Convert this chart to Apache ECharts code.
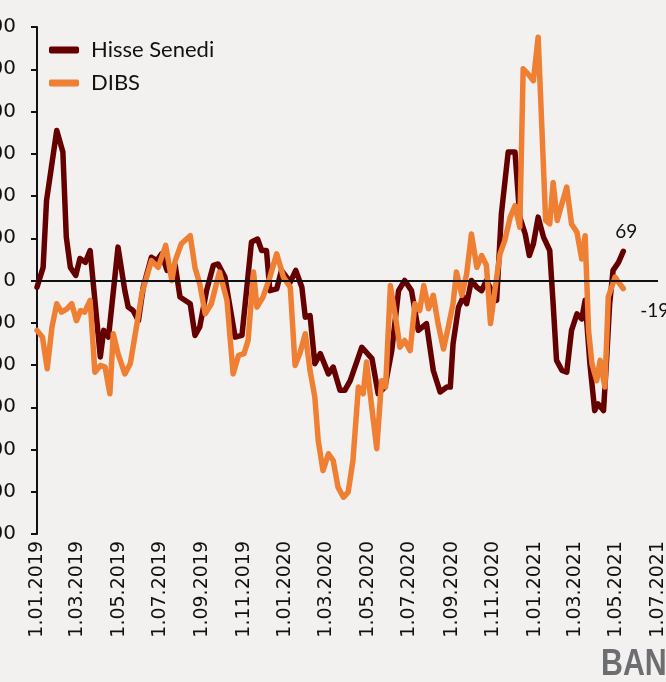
<!DOCTYPE html>
<html><head><meta charset="utf-8">
<script src="https://cdn.jsdelivr.net/npm/echarts@6/dist/echarts.min.js"></script>
<style>html,body{margin:0;padding:0;background:#f2f1ef;} #c{width:666px;height:682px;}</style>
</head><body><div id="c"></div>
<script>
const seriesNames = ['Hisse Senedi', 'DIBS'];

const hisseDates = ['2019-01-01','2019-01-10','2019-01-15','2019-01-30','2019-02-08','2019-02-13','2019-02-19','2019-02-27','2019-03-05','2019-03-13','2019-03-20','2019-04-04','2019-04-09','2019-04-16','2019-04-30','2019-05-10','2019-05-15','2019-05-22','2019-05-30','2019-06-06','2019-06-18','2019-06-26','2019-07-03','2019-07-11','2019-07-23','2019-07-30','2019-08-14','2019-08-21','2019-08-28','2019-09-07','2019-09-17','2019-09-24','2019-10-04','2019-10-19','2019-10-29','2019-11-12','2019-11-21','2019-11-27','2019-12-04','2019-12-09','2019-12-19','2019-12-26','2020-01-08','2020-01-16','2020-01-25','2020-01-30','2020-02-06','2020-02-13','2020-02-21','2020-03-04','2020-03-11','2020-03-21','2020-03-28','2020-04-05','2020-04-22','2020-05-07','2020-05-16','2020-05-26','2020-06-05','2020-06-15','2020-06-24','2020-07-04','2020-07-14','2020-07-26','2020-08-05','2020-08-15','2020-08-25','2020-08-30','2020-09-03','2020-09-11','2020-09-18','2020-09-23','2020-09-30','2020-10-08','2020-10-15','2020-10-22','2020-11-06','2020-11-13','2020-11-23','2020-12-03','2020-12-10','2020-12-18','2020-12-24','2020-12-30','2021-01-06','2021-01-14','2021-01-23','2021-01-28','2021-02-02','2021-02-10','2021-02-17','2021-02-24','2021-03-04','2021-03-11','2021-03-16','2021-03-23','2021-03-30','2021-04-04','2021-04-12','2021-04-17','2021-04-21','2021-04-26','2021-05-04','2021-05-11'];
const hisseValues = [-16,31,189,355,304,103,31,12,52,43,71,-181,-118,-134,79,-24,-63,-71,-95,-16,55,47,63,24,36,-39,-55,-130,-110,-24,36,39,8,-134,-130,91,98,71,71,-24,-20,24,-4,24,-16,-87,-83,-197,-173,-221,-205,-260,-260,-237,-158,-185,-268,-252,-166,-24,0,-24,-118,-102,-213,-264,-252,-252,-150,-63,-39,-55,0,-16,-24,0,-47,158,304,304,150,110,59,87,150,102,71,-55,-189,-213,-217,-118,-79,-91,-47,-197,-308,-292,-308,-173,-55,24,43,69];

const dibsDates = ['2019-01-01','2019-01-09','2019-01-16','2019-01-23','2019-01-30','2019-02-06','2019-02-14','2019-02-21','2019-02-28','2019-03-06','2019-03-12','2019-03-20','2019-03-27','2019-04-04','2019-04-11','2019-04-18','2019-04-23','2019-04-30','2019-05-10','2019-05-18','2019-05-27','2019-06-04','2019-06-11','2019-06-18','2019-06-28','2019-07-09','2019-07-18','2019-07-23','2019-08-01','2019-08-14','2019-08-21','2019-08-28','2019-09-05','2019-09-14','2019-09-26','2019-10-07','2019-10-16','2019-10-24','2019-11-01','2019-11-07','2019-11-15','2019-11-20','2019-11-29','2019-12-09','2019-12-19','2019-12-29','2020-01-08','2020-01-15','2020-01-22','2020-01-30','2020-02-06','2020-02-13','2020-02-18','2020-02-25','2020-03-04','2020-03-11','2020-03-18','2020-03-26','2020-04-02','2020-04-09','2020-04-17','2020-04-24','2020-04-29','2020-05-06','2020-05-14','2020-05-21','2020-05-27','2020-06-03','2020-06-12','2020-06-17','2020-06-24','2020-07-02','2020-07-09','2020-07-16','2020-07-22','2020-07-29','2020-08-05','2020-08-12','2020-08-20','2020-08-27','2020-09-03','2020-09-08','2020-09-16','2020-09-23','2020-09-30','2020-10-08','2020-10-15','2020-10-22','2020-10-28','2020-11-04','2020-11-11','2020-11-18','2020-11-26','2020-12-03','2020-12-10','2020-12-15','2020-12-22','2020-12-30','2021-01-06','2021-01-17','2021-01-23','2021-01-28','2021-02-03','2021-02-09','2021-02-17','2021-02-24','2021-03-04','2021-03-11','2021-03-16','2021-03-21','2021-03-26','2021-04-02','2021-04-07','2021-04-14','2021-04-19','2021-04-29','2021-05-04','2021-05-11'];
const dibsValues = [-118,-134,-209,-110,-55,-75,-67,-55,-95,-71,-75,-47,-217,-201,-205,-268,-126,-173,-221,-197,-110,-31,8,47,31,83,0,47,87,106,31,-8,-79,-55,20,-47,-221,-177,-173,-142,20,-63,-39,8,63,8,-16,-201,-173,-126,-213,-276,-379,-450,-410,-426,-489,-513,-501,-426,-252,-268,-193,-292,-398,-237,-252,-12,-102,-158,-142,-166,-55,-71,-12,-67,-35,-102,-162,-110,-55,20,-35,16,110,31,59,36,-102,-16,63,95,150,177,126,501,489,473,576,142,134,232,142,177,221,134,114,51,106,-118,-197,-237,-189,-252,-39,8,-4,-19];

const xTickDates = ['2019-01-01','2019-03-01','2019-05-01','2019-07-01','2019-09-01','2019-11-01','2020-01-01','2020-03-01','2020-05-01','2020-07-01','2020-09-01','2020-11-01','2021-01-01','2021-03-01','2021-05-01','2021-07-01'];
const yMin = -600, yMax = 600, yStep = 100;

const toTs = s => { const p = s.split('-').map(Number); return Date.UTC(p[0], p[1] - 1, p[2]); };
const pad = n => (n < 10 ? '0' : '') + n;
const fmtDate = v => { const d = new Date(v); return d.getUTCDate() + '.' + pad(d.getUTCMonth() + 1) + '.' + d.getUTCFullYear(); };

const chart = echarts.init(document.getElementById('c'), null, {renderer: 'canvas'});
const xTicks = xTickDates.map(toTs);

chart.setOption({
  backgroundColor: '#f2f1ef',
  animation: false,
  grid: {left: 37, right: 8, top: 27, bottom: 148, containLabel: false, outerBoundsMode: 'none'},
  legend: {
    data: seriesNames, orient: 'vertical', left: 44, top: 34, itemGap: 11,
    itemWidth: 30, itemHeight: 7, icon: 'roundRect',
    textStyle: {fontFamily: 'Lato', fontSize: 22, color: '#111', padding: [0, 0, 0, 7]}
  },
  xAxis: {
    type: 'value', min: xTicks[0], max: xTicks[xTicks.length - 1],
    axisLine: {show: false}, axisTick: {show: false}, splitLine: {show: false},
    axisLabel: {
      customValues: xTicks, rotate: 90, margin: 7,
      formatter: fmtDate, fontFamily: 'DejaVu Sans', fontSize: 19, color: '#111',
      showMinLabel: true, showMaxLabel: true, hideOverlap: false
    }
  },
  yAxis: {
    type: 'value', min: yMin, max: yMax, interval: yStep,
    axisLine: {show: true, onZero: false, lineStyle: {color: '#111', width: 2}},
    axisTick: {show: true, length: 6, lineStyle: {color: '#111', width: 2}},
    splitLine: {show: false},
    axisLabel: {margin: 21, fontFamily: 'DejaVu Sans', fontSize: 20, color: '#111'}
  },
  series: [
    {
      name: seriesNames[0], type: 'line', showSymbol: false, symbol: 'none',
      data: hisseDates.map((d, i) => [toTs(d), hisseValues[i]]),
      lineStyle: {color: '#650000', width: 5.5, join: 'round', cap: 'round'},
      itemStyle: {color: '#650000'},
      endLabel: {show: true, formatter: p => String(p.value[1]), offset: [-16, -19], fontFamily: 'Lato', fontSize: 19, color: '#111'},
      markLine: {silent: true, symbol: 'none', label: {show: false},
        lineStyle: {color: '#111', width: 2, type: 'solid'}, data: [{yAxis: 0}]},
      z: 2
    },
    {
      name: seriesNames[1], type: 'line', showSymbol: false, symbol: 'none',
      data: dibsDates.map((d, i) => [toTs(d), dibsValues[i]]),
      lineStyle: {color: '#ee7f33', width: 5.5, join: 'round', cap: 'round'},
      itemStyle: {color: '#ee7f33'},
      endLabel: {show: true, formatter: p => String(p.value[1]), offset: [9, 22], fontFamily: 'Lato', fontSize: 19, color: '#111'},
      z: 3
    }
  ],
  graphic: [{
    type: 'text', left: 601, top: 646, scaleX: 0.82, originX: 0,
    style: {text: 'BANKASI', fontFamily: 'Liberation Sans', fontWeight: 'bold', fontSize: 37, fill: '#6d6e71'}
  }]
});
</script></body></html>
